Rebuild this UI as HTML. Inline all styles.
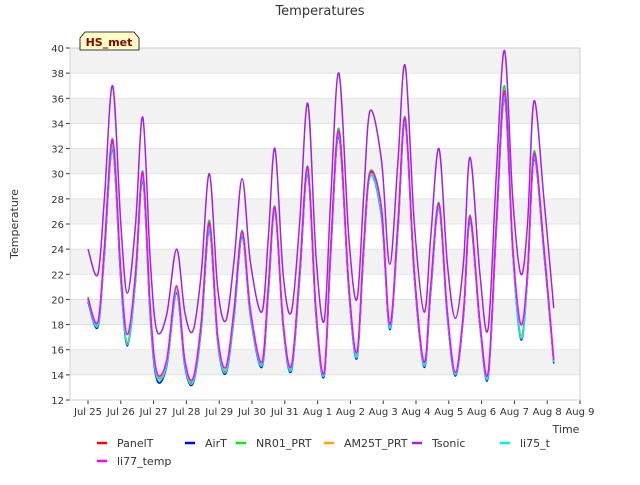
<!DOCTYPE html>
<html><head><meta charset="utf-8"><style>
body{margin:0;background:#fff;font-family:"Liberation Sans",sans-serif;}
svg text{font-family:"DejaVu Sans","Liberation Sans",sans-serif;}
</style></head><body>
<svg id="chart" width="640" height="480">
<rect width="640" height="480" fill="#fff"/>
<g id="bands"></g>
<g id="grid"></g>
<g id="series"></g>
<g id="axes"></g>
<text x="320" y="15" text-anchor="middle" font-size="13" fill="#333">Temperatures</text>
<text x="18" y="224" text-anchor="middle" font-size="11" fill="#333" transform="rotate(-90 18 224)">Temperature</text>
<text x="566" y="433" text-anchor="middle" font-size="11" fill="#333">Time</text>
<g>
<path d="M80,50 L80,38 L85,32 L134,32 L139,38 L139,50 Z" fill="#ffffc8" stroke="#000" stroke-width="0.8"/>
<text x="109" y="46" text-anchor="middle" font-size="11" font-weight="bold" fill="#8b0000">HS_met</text>
</g>
<g id="legend"></g>
</svg>
<script>
const times=[0,0.3,0.5,0.75,1.0,1.2,1.45,1.67,1.9,2.1,2.4,2.7,2.95,3.2,3.45,3.7,3.95,4.2,4.45,4.7,4.95,5.3,5.5,5.7,5.95,6.2,6.45,6.7,6.95,7.2,7.4,7.65,7.95,8.2,8.4,8.6,8.95,9.2,9.45,9.67,9.95,10.25,10.45,10.7,10.95,11.2,11.45,11.65,11.95,12.2,12.45,12.7,12.95,13.2,13.4,13.6,13.9,14.2];
const panelT=[20,18,24,32.5,22,16.5,22,30,19,14,15,21,15,13.5,18,26,17,14.3,19,25.3,19,14.8,21,27.2,18,14.5,22,30.4,19,14,24,33.5,21,15.5,24,30,27,17.8,26,34.3,22,14.8,21,27.5,19,14,19,26.5,18,14,26,36.5,24,17,22,31.5,24,15];
const airT=[19.8,17.8,23.5,32,21.5,16.3,21.5,29.5,18.5,13.6,14.7,20.5,14.7,13.3,17.5,25.5,16.7,14.1,18.5,25,18.7,14.6,20.5,27,17.8,14.3,21.5,30,18.7,13.9,23.5,33,20.7,15.3,23.5,29.8,26.5,17.6,25.5,34,21.7,14.6,20.5,27.3,18.7,13.9,18.7,26.2,17.8,13.8,25.5,36,23.7,16.8,21.7,31.2,23.7,14.9];
const nr01=[20.2,18,24.2,32.8,22.2,16.6,22.2,30.2,19.2,14,15.1,21,15.1,13.6,18.2,26.3,17.1,14.4,19.2,25.5,19.1,14.9,21.2,27.4,18.1,14.6,22.2,30.6,19.2,14.1,24.2,33.6,21.2,15.6,24.2,30.2,27.2,17.9,26.2,34.5,22.2,14.9,21.2,27.7,19.1,14.1,19.1,26.7,18.1,14.1,26.2,37,24.2,17.1,22.2,31.8,24.2,15.1];
const am25t=[20.1,18.1,23.8,32.3,22.1,16.6,21.8,29.8,19.1,14.1,15,20.8,15.1,13.6,18,25.8,17.1,14.4,19,25.2,19.1,14.9,21,27,18.1,14.6,22,30.2,19.1,14.1,24,33.2,21.1,15.6,24,29.9,27.1,17.9,26,34.1,22.1,14.9,21,27.4,19.1,14.1,19,26.4,18.1,14.1,26,36.2,24.1,17.1,22,31.4,24.1,15.1];
const tsonic=[24,22,28,37,26,20.5,26,34.5,23,17.5,18.8,24,19,17.5,22,30,21,18.3,23,29.6,23,19,25,32,22,19,26,35.6,23.5,18.3,28,38,25,20,28,35,31,22.8,31,38.6,26,19,25,32,23,18.5,23,31.3,22,17.7,30,39.8,28,22,26,35.8,28,19.3];
const li75=[19.9,17.9,23.6,32.1,21.7,16.4,21.6,29.6,18.7,13.8,14.8,20.6,14.8,13.4,17.6,25.6,16.8,14.2,18.6,25.1,18.8,14.7,20.6,27,17.9,14.4,21.6,30.1,18.8,14,23.6,33.1,20.8,15.4,23.6,29.8,26.6,17.7,25.6,34.1,21.8,14.7,20.6,27.3,18.8,14,18.8,26.3,17.9,13.9,25.6,36.1,23.8,16.9,21.8,31.3,23.8,15];
const li77=[20.1,18.2,24.1,32.7,22.3,17.2,22.1,30.1,19.3,14.2,15.2,21.1,15.2,13.7,18.1,26.1,17.2,14.6,19.1,25.4,19.2,15,21.1,27.3,18.2,14.7,22.1,30.5,19.2,14.2,24.1,33.4,21.2,15.8,24.1,30.1,27.2,18,26.1,34.4,22.2,15,21.1,27.6,19.2,14.2,19.1,26.6,18.2,14.2,26.1,36.6,24.2,18,22.2,31.6,24.2,15.2];
const yTicks=[12,14,16,18,20,22,24,26,28,30,32,34,36,38,40];
const xTickLabels=["Jul 25","Jul 26","Jul 27","Jul 28","Jul 29","Jul 30","Jul 31","Aug 1","Aug 2","Aug 3","Aug 4","Aug 5","Aug 6","Aug 7","Aug 8","Aug 9"];
const seriesNames=["PanelT","AirT","NR01_PRT","AM25T_PRT","Tsonic","li75_t","li77_temp"];
const seriesData=[panelT,airT,nr01,am25t,tsonic,li75,li77];
const colors=["#ff0000","#0000ff","#00ee00","#ffa500","#a020f0","#00eeee","#ff00ff"];
const L=70,R=580,T=48,B=400,x0=88,dayW=32.8;
const xs=d=>x0+d*dayW, ys=v=>B-(v-12)*(B-T)/28;
const NS="http://www.w3.org/2000/svg";
function mk(tag,attrs,parent){const e=document.createElementNS(NS,tag);for(const k in attrs)e.setAttribute(k,attrs[k]);parent.appendChild(e);return e;}
function smoothPath(pts){let d='M'+pts[0][0]+','+pts[0][1];
for(let i=0;i<pts.length-1;i++){const p0=pts[Math.max(0,i-1)],p1=pts[i],p2=pts[i+1],p3=pts[Math.min(pts.length-1,i+2)];
const c1x=p1[0]+(p2[0]-p0[0])/6,c1y=p1[1]+(p2[1]-p0[1])/6,c2x=p2[0]-(p3[0]-p1[0])/6,c2y=p2[1]-(p3[1]-p1[1])/6;
d+=' C'+c1x+','+c1y+' '+c2x+','+c2y+' '+p2[0]+','+p2[1];}return d;}
const bands=document.getElementById('bands'),grid=document.getElementById('grid'),axes=document.getElementById('axes'),ser=document.getElementById('series'),leg=document.getElementById('legend');
for(let v=14;v<40;v+=4){const r=mk('rect',{x:L,y:ys(v+2),width:R-L,height:ys(v)-ys(v+2),fill:'#f2f2f2'},bands);

}
yTicks.forEach(v=>{const l=mk('line',{x1:L,x2:R,y1:ys(v),y2:ys(v),stroke:'#dedede','stroke-width':0.8},grid);


mk('line',{x1:L-4,x2:L,y1:ys(v),y2:ys(v),stroke:'#333'},axes);
const t=mk('text',{x:L-6,y:ys(v)+4,'text-anchor':'end','font-size':10,fill:'#333'},axes);t.textContent=v;

});
xTickLabels.forEach((s,i)=>{const x=xs(i);mk('line',{x1:x,x2:x,y1:B,y2:B+4,stroke:'#333'},axes);
const t=mk('text',{x:x,y:B+15,'text-anchor':'middle','font-size':10,fill:'#333'},axes);t.textContent=s;

});
mk('rect',{x:L,y:T,width:R-L,height:B-T,fill:'none',stroke:'#cfcfcf'},axes);
seriesData.forEach((d,i)=>{const p=mk('path',{d:smoothPath(d.map((v,j)=>[xs(times[j]),ys(v)])),fill:'none',stroke:colors[i],'stroke-width':1.5,'stroke-linejoin':'round'},ser);

});
const legPos=[[97,443],[185,443],[236,443],[324,443],[412,443],[500,443],[97,461]];
seriesNames.forEach((n,i)=>{const g=mk('g',{},leg);


const [x,y]=legPos[i];mk('line',{x1:x,x2:x+10,y1:y,y2:y,stroke:colors[i],'stroke-width':2.5},g);
const t=mk('text',{x:x+20,y:y+4,'font-size':11,fill:'#333'},g);t.textContent=n;});
</script>
</body></html>
